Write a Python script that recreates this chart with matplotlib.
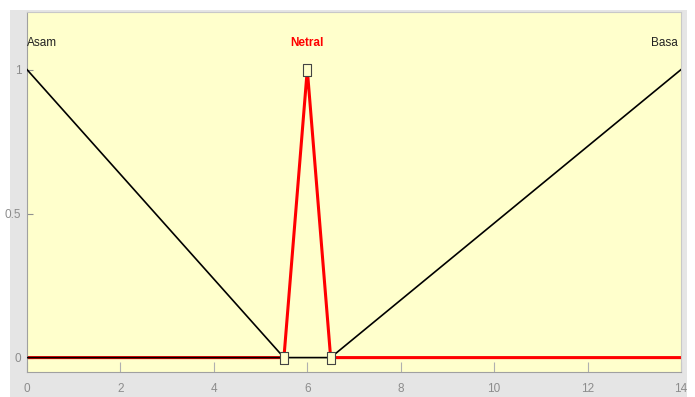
import matplotlib
matplotlib.use("Agg")
import matplotlib.pyplot as plt
from matplotlib.patches import Rectangle

# Membership functions (pH universe 0..14)
asam_x = [0, 5.5]
asam_y = [1, 0]
netral_x = [0, 5.5, 6, 6.5, 14]
netral_y = [0, 0, 1, 0, 0]
basa_x = [0, 6.5, 14]
basa_y = [0, 0, 1]
marker_x = [5.5, 6, 6.5]
marker_y = [0, 1, 0]
mf_names = ["Asam", "Netral", "Basa"]
mf_label_x = [0, 6, 14]
xticks = [0, 2, 4, 6, 8, 10, 12, 14]
yticks = [0, 0.5, 1]
ytick_labels = ["0", "0.5", "1"]

plt.rcParams['font.family'] = ['Liberation Sans Narrow', 'Liberation Sans', 'DejaVu Sans']

fig = plt.figure(figsize=(6.95, 3.97), dpi=100, facecolor='white')
fig.patches.append(Rectangle((10/695, 0), (687-10)/695, (397-10)/397,
                             transform=fig.transFigure, facecolor='#e5e5e5',
                             edgecolor='none', zorder=-10))
ax = fig.add_axes([27/695, 25/397, 654/695, 360/397])
ax.set_facecolor('#ffffcc')

ax.plot(netral_x, netral_y, color='#ff0000', lw=2.2, zorder=2)
ax.plot(asam_x, asam_y, color='black', lw=1.2, zorder=3)
ax.plot(basa_x, basa_y, color='black', lw=1.2, zorder=3)
rect_marker = [(-0.32, -0.5), (0.32, -0.5), (0.32, 0.5), (-0.32, 0.5), (-0.32, -0.5)]
ax.plot(marker_x, marker_y, ls='none', marker=rect_marker, markersize=8,
        markerfacecolor='#ffffcc', markeredgecolor='#444444', markeredgewidth=0.8,
        zorder=4)

ax.text(mf_label_x[0], 1.093, mf_names[0], ha='left', va='center', fontsize=8.5, color='#222222')
ax.text(mf_label_x[1], 1.093, mf_names[1], ha='center', va='center', fontsize=8.5,
        color='#ff0000', fontweight='bold')
ax.text(mf_label_x[2] - 0.08, 1.093, mf_names[2], ha='right', va='center', fontsize=8.5, color='#222222')

ax.set_xlim(0, 14)
ax.set_ylim(-0.05, 1.2)
ax.set_xticks(xticks)
ax.set_xticklabels([str(v) for v in xticks])
ax.set_yticks(yticks)
ax.set_yticklabels(ytick_labels)
ax.tick_params(axis='x', direction='in', length=7, width=0.8, color='#b0b0b0',
               labelcolor='#8c8c8c', labelsize=8.5, pad=8)
ax.tick_params(axis='y', direction='in', length=4, width=0.8, color='#909090',
               labelcolor='#8c8c8c', labelsize=8.5, pad=4)
for s in ['left', 'bottom']:
    ax.spines[s].set_color('#a0a0a0')
for s in ['top', 'right']:
    ax.spines[s].set_color('#c8c8c8')

fig.savefig('out.png', dpi=100, facecolor=fig.get_facecolor())
